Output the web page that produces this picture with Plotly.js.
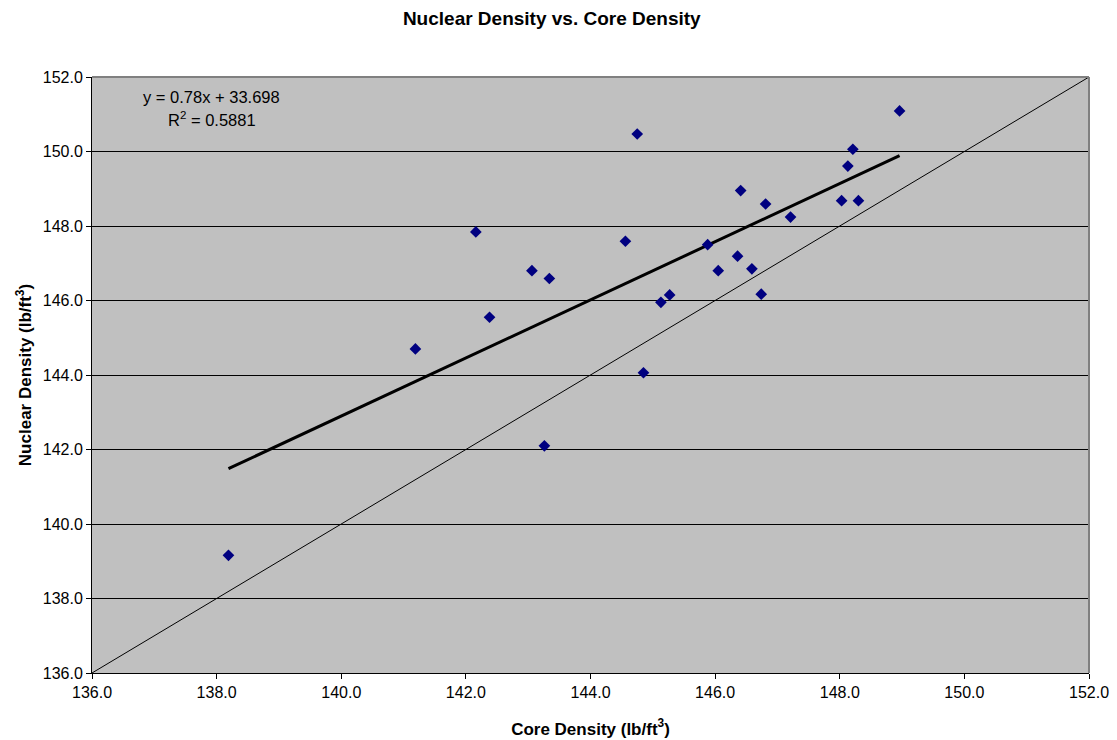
<!DOCTYPE html>
<html>
<head>
<meta charset="utf-8">
<script src="https://cdn.plot.ly/plotly-3.0.1.min.js"></script>
<style>html,body{margin:0;padding:0;background:#fff;}#chart{width:1117px;height:740px;}</style>
</head>
<body>
<div id="chart"></div>
<script>
// Data
const coreDensity = [138.19, 141.19, 142.16, 142.38, 143.06, 143.34, 143.26, 144.56, 144.75, 144.85,
                     145.13, 145.27, 145.88, 146.05, 146.36, 146.41, 146.59, 146.74, 146.81, 147.21,
                     148.03, 148.13, 148.21, 148.30, 148.96];
const nuclearDensity = [139.16, 144.70, 147.84, 145.55, 146.80, 146.59, 142.10, 147.59, 150.47, 144.06,
                        145.95, 146.15, 147.50, 146.80, 147.19, 148.95, 146.85, 146.17, 148.59, 148.24,
                        148.68, 149.61, 150.06, 148.68, 151.09];
const trendSlope = 0.78;
const trendIntercept = 33.698;
const rSquared = 0.5881;
const equalityRange = [136, 152];
const tickValues = [136, 138, 140, 142, 144, 146, 148, 150, 152];

const xMin = Math.min(...coreDensity), xMax = Math.max(...coreDensity);
const trendX = [xMin, xMax];
const trendY = trendX.map(v => trendSlope * v + trendIntercept);

const font = "Liberation Sans, Arial, sans-serif";

const traces = [
  { x: equalityRange, y: equalityRange, mode: 'lines', line: {color: '#000', width: 1}, hoverinfo: 'skip', showlegend: false },
  { x: trendX, y: trendY, mode: 'lines', line: {color: '#000', width: 3}, hoverinfo: 'skip', showlegend: false },
  { x: coreDensity, y: nuclearDensity, mode: 'markers', type: 'scatter',
    marker: {symbol: 'diamond', color: '#000080', size: 9, line: {width: 0}}, showlegend: false }
];

const axisCommon = {
  range: [136, 152], tickvals: tickValues, tickformat: '.1f',
  showline: true, linecolor: '#000', linewidth: 1,
  ticks: 'outside', ticklen: 5, tickcolor: '#000', tickwidth: 1,
  tickfont: {family: font, size: 16, color: '#000'}, zeroline: false
};

const layout = {
  width: 1117, height: 740,
  margin: {l: 92, r: 28, t: 77, b: 67},
  paper_bgcolor: '#fff', plot_bgcolor: '#C0C0C0',
  title: {text: '<b>Nuclear Density vs. Core Density</b>', x: 0.494, xanchor: 'center', y: 0.9757, yanchor: 'middle',
          font: {family: font, size: 19, color: '#000'}},
  xaxis: Object.assign({}, axisCommon, {
    showgrid: false,
    title: {text: '<b>Core Density (lb/ft<sup>3</sup>)</b>', font: {family: font, size: 17, color: '#000'}, standoff: 22}
  }),
  yaxis: Object.assign({}, axisCommon, {
    showgrid: true, gridcolor: '#000', gridwidth: 1,
    title: {text: '<b>Nuclear Density (lb/ft<sup>3</sup>)</b>', font: {family: font, size: 17, color: '#000'}, standoff: 6}
  }),
  shapes: [
    {type: 'line', xref: 'paper', yref: 'paper', x0: 0, x1: 1, y0: 1, y1: 1, line: {color: '#808080', width: 2}},
    {type: 'line', xref: 'paper', yref: 'paper', x0: 1, x1: 1, y0: 0, y1: 1, line: {color: '#808080', width: 2}}
  ],
  annotations: [
    {xref: 'x', yref: 'y', x: 137.92, y: 151.47, xanchor: 'center', yanchor: 'middle', showarrow: false,
     text: 'y = ' + trendSlope + 'x + ' + trendIntercept,
     font: {family: font, size: 16.5, color: '#000'}},
    {xref: 'x', yref: 'y', x: 137.92, y: 150.87, xanchor: 'center', yanchor: 'middle', showarrow: false,
     text: 'R<sup>2</sup> = ' + rSquared,
     font: {family: font, size: 16.5, color: '#000'}}
  ]
};

Plotly.newPlot('chart', traces, layout, {displayModeBar: false, staticPlot: true});
</script>
</body>
</html>
